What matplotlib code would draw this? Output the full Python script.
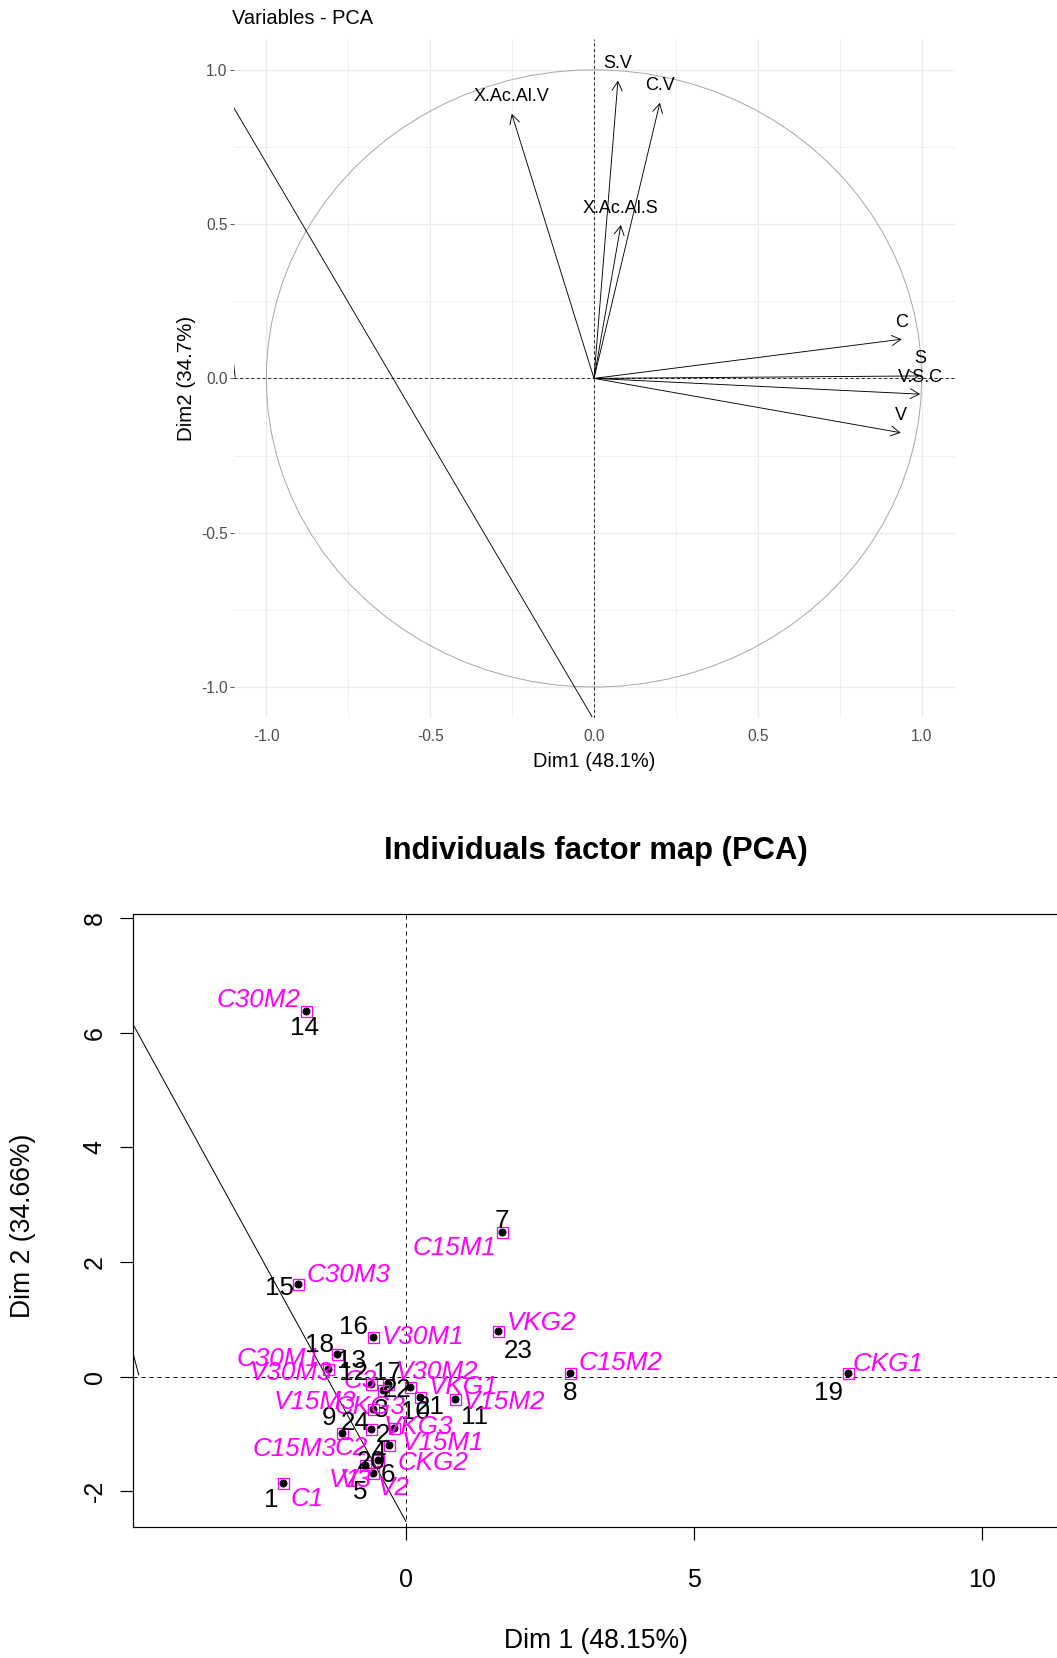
import numpy as np
import matplotlib
matplotlib.use('Agg')
import matplotlib.pyplot as plt
import matplotlib.font_manager as fm

plt.rcParams['font.family'] = ['Liberation Sans', 'DejaVu Sans']

_installed = {f.name for f in fm.fontManager.ttflist}
narrow = 'Liberation Sans Narrow' if 'Liberation Sans Narrow' in _installed else 'Liberation Sans'

# ---- variables (correlation circle) ----
var_names = ['X.Ac.Al.V', 'S.V', 'C.V', 'X.Ac.Al.S', 'C', 'S', 'V.S.C', 'V']
var_dim1 = [-0.251, 0.073, 0.201, 0.082, 0.939, 0.994, 0.995, 0.936]
var_dim2 = [0.857, 0.965, 0.893, 0.497, 0.127, 0.008, -0.051, -0.176]

# stray lines drawn over the circle plot
var_line_x = [-1.103, -0.006]
var_line_y = [0.884, -1.096]
var_stub_x = [-1.103, -1.095]
var_stub_y = [0.079, 0.004]

# ---- individuals ----
ind_names = ['C1', 'C2', 'C3', 'V1', 'V2', 'V3',
             'C15M1', 'C15M2', 'C15M3', 'V15M1', 'V15M2', 'V15M3',
             'C30M1', 'C30M2', 'C30M3', 'V30M1', 'V30M2', 'V30M3',
             'CKG1', 'CKG2', 'CKG3', 'VKG1', 'VKG2', 'VKG3']
ind_numbers = [str(i) for i in range(1, 25)]
ind_dim1 = [-2.13, -0.608, -0.613, -0.481, -0.568, -0.712,
            1.66, 2.85, -1.116, -0.290, 0.851, -0.568,
            -1.203, -1.74, -1.88, -0.569, -0.307, -1.349,
            7.68, -0.394, 0.243, 0.069, 1.60, -0.203]
ind_dim2 = [-1.85, -0.918, -0.127, -1.454, -1.686, -1.541,
            2.52, 0.06, -0.988, -1.192, -0.394, -0.569,
            0.396, 6.39, 1.61, 0.689, -0.127, 0.129,
            0.06, -0.232, -0.349, -0.175, 0.79, -0.901]

ind_line_x = [-4.74, 0.0]
ind_line_y = [6.15, -2.53]
ind_stub_x = [-4.74, -4.64]
ind_stub_y = [0.41, 0.03]

# label placement (offset in points from each point)
num_off = [(-11.6, -17.3), (11.7, -5.7), (11, -26), (0.7, 8.3), (-13.3, -18.4), (23, -10),
           (0, 11.3), (0.5, -19.4), (-12.4, 15), (26.7, 33), (20, -17.4), (-20, 36),
           (15, -6.7), (-0.8, -17.8), (-17.7, -3.9), (-19.2, 9.9), (-0.8, 10.5), (-8.3, 24.3),
           (-20.1, -19.4), (-11.6, -71.7), (10, -10), (-13.3, -3.3), (20.1, -19.3), (-39.3, 5)]
name_off = [(23.4, -16.6), (-19.3, -19), (-10.7, 3), (-33.3, -20), (20, -15), (-9, -15),
            (-46.6, -16), (50.3, 9.8), (-47.4, -16), (54, 1.7), (49, -2.4), (-58.3, 7.6),
            (-58.4, -5.3), (-47.5, 10.5), (50.6, 9.4), (50.1, -0.1), (49, 12.3), (-37.6, -3.4),
            (39.9, 9.3), (49.4, -73.3), (-50, -10), (53.3, 0), (43.5, 8.7), (24, 1.6)]

W, H = 1057, 1658
fig = plt.figure(figsize=(W / 72, H / 72), dpi=72)

# ================= top: Variables - PCA =================
ax1 = fig.add_axes([233.5 / W, 1 - 717.9 / H, 721 / W, 679 / H])
ax1.set_xlim(-1.1, 1.1)
ax1.set_ylim(-1.1, 1.1)
for s in ax1.spines.values():
    s.set_visible(False)
major = [-1, -0.5, 0, 0.5, 1]
ax1.set_xticks(major)
ax1.set_yticks(major)
ax1.set_xticks([-0.75, -0.25, 0.25, 0.75], minor=True)
ax1.set_yticks([-0.75, -0.25, 0.25, 0.75], minor=True)
ax1.set_xticklabels(['-1.0', '-0.5', '0.0', '0.5', '1.0'], family=narrow)
ax1.set_yticklabels(['-1.0', '-0.5', '0.0', '0.5', '1.0'], family=narrow)
ax1.grid(which='major', color='#ebebeb', lw=1.2)
ax1.grid(which='minor', color='#ebebeb', lw=0.7)
ax1.set_axisbelow(True)
ax1.tick_params(axis='x', which='major', length=0, pad=11, labelsize=15.5, labelcolor='#4d4d4d')
ax1.tick_params(axis='y', which='major', length=4, width=0.8, color='#333333', pad=2,
                labelsize=15.5, labelcolor='#4d4d4d')
ax1.tick_params(which='minor', length=0)

t = np.linspace(0, 2 * np.pi, 90)
ax1.plot(np.cos(t), np.sin(t), color='#a8a8a8', lw=1)
ax1.axhline(0, color='black', ls=(0, (4, 3)), lw=0.8)
ax1.axvline(0, color='black', ls=(0, (4, 3)), lw=0.8)
ax1.plot(var_line_x, var_line_y, color='black', lw=0.9)
ax1.plot(var_stub_x, var_stub_y, color='black', lw=0.9)

for name, d1, d2 in zip(var_names, var_dim1, var_dim2):
    ax1.annotate('', xy=(d1, d2), xytext=(0, 0),
                 arrowprops=dict(arrowstyle='->,head_length=0.45,head_width=0.25',
                                 color='black', lw=0.9, shrinkA=0, shrinkB=0,
                                 mutation_scale=20))
    ax1.annotate(name, xy=(d1, d2), xytext=(0, 17), textcoords='offset points',
                 ha='center', va='center', fontsize=18, family=narrow)

fig.text(232 / W, 1 - 19 / H, 'Variables - PCA', ha='left', va='center',
         fontsize=20, family=narrow)
fig.text(186 / W, 1 - 378 / H, 'Dim2 (34.7%)', rotation=90, ha='center', va='center',
         fontsize=20.5)
fig.text(594 / W, 1 - 761 / H, 'Dim1 (48.1%)', ha='center', va='center',
         fontsize=20, family=narrow)

# ================= bottom: Individuals factor map =================
ax2 = fig.add_axes([132.7 / W, 1 - 1526.7 / H, (1059 - 132.7) / W, (1526.7 - 914) / H])
ax2.set_xlim(-4.745, 11.34)
ax2.set_ylim(-2.62, 8.075)
for s in ax2.spines.values():
    s.set_linewidth(1.2)
ax2.set_xticks([0, 5, 10])
ax2.set_xticklabels(['0', '5', '10'])
ax2.set_yticks([-2, 0, 2, 4, 6, 8])
ax2.set_yticklabels(['-2', '0', '2', '4', '6', '8'], rotation=90, va='center')
ax2.tick_params(axis='x', length=13, width=1.2, labelsize=25, pad=28)
ax2.tick_params(axis='y', length=13, width=1.2, labelsize=25, pad=13)

ax2.axhline(0, color='black', ls=(0, (4, 4)), lw=1)
ax2.axvline(0, color='black', ls=(0, (4, 4)), lw=1)
ax2.plot(ind_line_x, ind_line_y, color='black', lw=1)
ax2.plot(ind_stub_x, ind_stub_y, color='black', lw=1)

ax2.plot(ind_dim1, ind_dim2, ls='none', marker='o', ms=7, color='black')
ax2.plot(ind_dim1, ind_dim2, ls='none', marker='s', ms=11, mfc='none',
         mec='#ff00ff', mew=1.3)

for i in range(len(ind_dim1)):
    p = (ind_dim1[i], ind_dim2[i])
    ax2.annotate(ind_numbers[i], p, xytext=num_off[i], textcoords='offset points',
                 ha='center', va='center', fontsize=26, color='black')
    ax2.annotate(ind_names[i], p, xytext=name_off[i], textcoords='offset points',
                 ha='center', va='center', fontsize=26, color='#ff00ff', style='italic')

fig.text(596 / W, 1 - 851 / H, 'Individuals factor map (PCA)', ha='center', va='center',
         fontsize=31, fontweight='bold')
fig.text(596 / W, 1 - 1641 / H, 'Dim 1 (48.15%)', ha='center', va='center', fontsize=26.5)
fig.text(23 / W, 1 - 1226 / H, 'Dim 2 (34.66%)', rotation=90, ha='center', va='center',
         fontsize=26.5)

fig.savefig('out.png', dpi=72)
